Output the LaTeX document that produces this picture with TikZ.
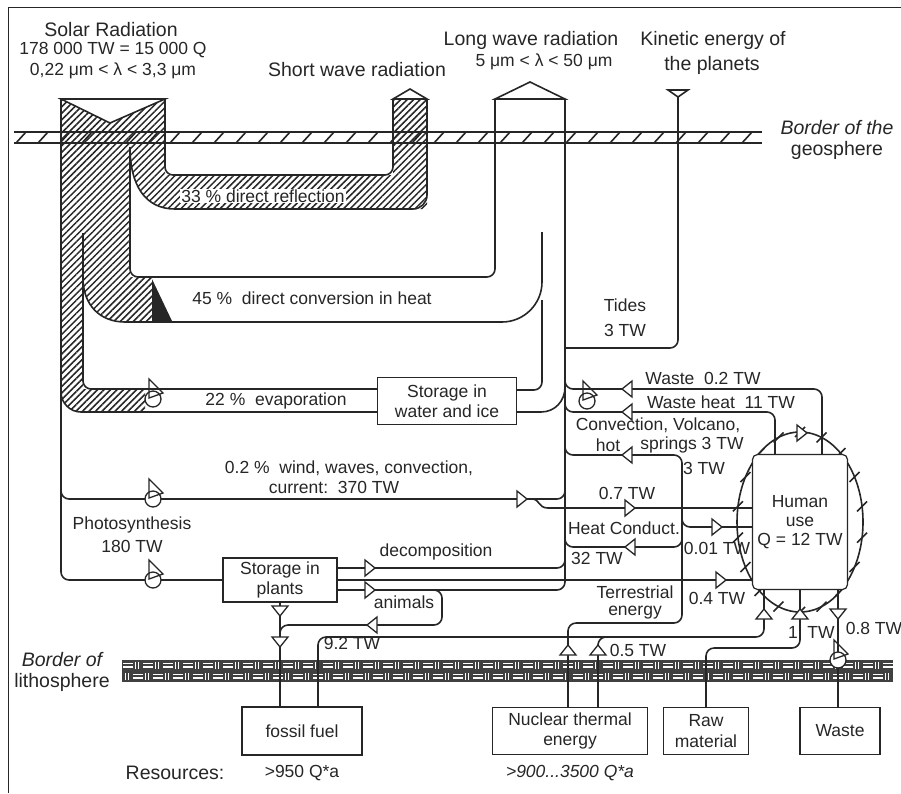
\documentclass[tikz,border=0pt]{standalone}
\usepackage{fontspec}
\setmainfont{Liberation Sans}
\usetikzlibrary{patterns.meta}

\tikzset{
  pics/flowtip/.style={code={\draw[line width=1.3pt, fill=white] (-5,-8) -- (5,0) -- (-5,8) -- cycle;}},
  pics/pumpsym/.style={code={
    \draw[line width=1.3pt, fill=white] (0,0) circle (8);
    \draw[line width=1.3pt] (-4,-1) -- (-4,-20) -- (10,-6) -- cycle;}},
}

\begin{document}
\begin{tikzpicture}[
    x=1pt, y=-1pt, color=black!85,
    band/.style={line width=1.6pt},
    pipe/.style={line width=1.6pt, rounded corners=8pt},
    hatch/.style={pattern={Lines[angle=45,distance=4.6pt,line width=1.5pt]}, pattern color=black!85},
    head/.style={font=\fontsize{19.5}{23}\selectfont, inner sep=0pt},
    lbl/.style={font=\fontsize{17.5}{20}\selectfont, inner sep=1pt},
    store/.style={rectangle, draw, fill=white, line width=1.2pt, align=center, inner sep=2pt, font=\fontsize{17.5}{20.5}\selectfont}
]
\useasboundingbox (0,0) rectangle (901,793);

% Frame
\draw[line width=1pt] (8,793) -- (8,7) -- (901,7);

% Hatched solar flows
\fill[hatch] (61,99) -- (110,123) -- (165,99) -- (165,175) -- (393,175) -- (393,99) -- (427,99) -- (427,209) -- (175,209)
   .. controls (145,209) and (130,185) .. (130,147) -- (130,277) -- (152,277) -- (152,322) -- (125,322)
   .. controls (100,322) and (83,305) .. (83,278) -- (83,389) -- (145,389) -- (145,412) -- (81,412)
   .. controls (70,412) and (61,403) .. (61,392) -- cycle;
\fill (152,279) -- (172,321) -- (152,321) -- cycle;

% Border of the geosphere
\draw[band] (14,132) -- (762,132) (14,143) -- (762,143);
\foreach \x in {16,38,...,750} \draw[band] (\x,143) -- (\x+10,132);

% Border of the lithosphere
\fill[black!75] (122,660) rectangle (893,682);
\begin{scope}
\clip (122,660) rectangle (893,682);
\foreach \x in {122,142,...,882} {
  \draw[white, line width=1.1pt] (\x+1,663.5) -- (\x+11,663.5) (\x+1,667) -- (\x+11,667)
    (\x+13.5,662) -- (\x+13.5,669) (\x+16.5,662) -- (\x+16.5,669)
    (\x+11,674.5) -- (\x+21,674.5) (\x+11,678) -- (\x+21,678)
    (\x+3.5,673) -- (\x+3.5,680) (\x+6.5,673) -- (\x+6.5,680);
}
\end{scope}

% Human use
\draw[band] (800,522) ellipse [x radius=63, y radius=90];
\foreach \a in {10,30,...,350} \draw[band] ({800+63*cos(\a)},{522+90*sin(\a)}) ++(-5,5) -- ++(10,-10);

% Boxes
\node[store, minimum width=139pt, minimum height=47pt] (water) at (447,401) {Storage in\\water and ice};
\node[store, minimum width=114pt, minimum height=44pt] (plants) at (280,580) {Storage in\\plants};
\node[store, rounded corners=5pt, minimum width=95pt, minimum height=135pt, font=\fontsize{17.5}{19}\selectfont] (human) at (800,522) {Human\\use\\Q = 12 TW};
\node[store, minimum width=120pt, minimum height=48pt] (fossil) at (302,731) {fossil fuel};
\node[store, minimum width=155pt, minimum height=47pt] (nuclear) at (570,731) {Nuclear thermal\\energy};
\node[store, minimum width=85pt, minimum height=47pt] (raw) at (706,731) {Raw\\material};
\node[store, minimum width=80pt, minimum height=47pt] (waste) at (840,731) {Waste};

% Headings
\node[head] (solar) at (111,30) {Solar Radiation};
\node[lbl] (solarval) at (113,50) {178 000 TW = 15 000 Q};
\node[lbl] (solarlam) at (113,71) {0,22 μm < λ < 3,3 μm};
\node[head] (short) at (357,70) {Short wave radiation};
\node[head] (long) at (531,40) {Long wave radiation};
\node[lbl] (longlam) at (544,62) {5 μm < λ < 50 μm};
\node[head] (kinetic) at (713,40) {Kinetic energy of};
\node[head] (kinetic2) at (712,65) {the planets};
\node[head] (geo) at (837,128) {\itshape Border of the};
\node[head] (geo2) at (837,150) {geosphere};
\node[head] (litho) at (62,660) {\itshape Border of};
\node[head] (litho2) at (62,682) {lithosphere};

% Flow labels
\node[lbl, fill=white] (refl) at (263,196) {33 \% direct reflection};
\node[lbl] (conv) at (312,298) {45 \%\ \ direct conversion in heat};
\node[lbl] (evap) at (276,401) {22 \%\ \ evaporation};
\node[lbl] (wind) at (349,468) {0.2 \%\ \ wind, waves, convection,};
\node[lbl] (windval) at (334,487) {current:\ \ 370 TW};
\node[lbl] (photo) at (132,525) {Photosynthesis};
\node[lbl] (photoval) at (132,546) {180 TW};
\node[lbl] (tides) at (625,305) {Tides};
\node[lbl] (tidesval) at (625,330) {3 TW};
\node[lbl] (waste1) at (703,378) {Waste\ \ 0.2 TW};
\node[lbl] (waste2) at (721,402) {Waste heat\ \ 11 TW};
\node[lbl, inner sep=0pt] (volc) at (658,425) {Convection, Volcano,};
\node[lbl, inner sep=0pt] (hot) at (608,445) {hot};
\node[lbl, inner sep=0pt] (springs) at (692,445) {springs 3 TW};
\node[lbl] (convval) at (704,468) {3 TW};
\node[lbl] (hydro) at (627,493) {0.7 TW};
\node[lbl] (cond) at (624,528) {Heat Conduct.};
\node[lbl] (condval) at (597,558) {32 TW};
\node[lbl] (geoth) at (717,548) {0.01 TW};
\node[lbl] (bio) at (717,598) {0.4 TW};
\node[lbl] (terr) at (635,592) {Terrestrial};
\node[lbl] (terr2) at (635,613) {energy};
\node[lbl] (decomp) at (436,552) {decomposition};
\node[lbl] (animals) at (404,602) {animals};
\node[lbl] (fossilval) at (352,643) {9.2 TW};
\node[lbl] (nuclval) at (638,650) {0.5 TW};
\node[lbl] (rawval) at (793,632) {1};
\node[lbl] (rawval2) at (821,632) {TW};
\node[lbl] (wasteval) at (874,628) {0.8 TW};
\node[head] (res) at (175,773) {Resources:};
\node[lbl] (resfossil) at (302,773) {>950 Q*a};
\node[lbl] (resnucl) at (570,773) {\itshape >900...3500 Q*a};

% Radiation flows
\draw[band] (61,99) -- (110,123) -- (165,99) -- cycle;
\draw[pipe] (61,99) -- (61,580) -- (plants.west);
\draw[band] (61,392) .. controls (61,403) and (70,412) .. (81,412) -- (water.west |- 0,412);
\draw[pipe] (83,233) -- (83,389) -- (water.west |- 0,389);
\draw[band] (83,278) .. controls (83,305) and (100,322) .. (125,322) -- (502,322) .. controls (524,322) and (542,304) .. (542,282) -- (542,232);
\draw[pipe] (130,147) -- (130,277) -- (495,277) -- (495,99);
\draw[band] (130,147) .. controls (130,185) and (145,209) .. (175,209) [rounded corners=14pt] -- (427,209) -- (427,99);
\draw[pipe] (165,99) -- (165,175) -- (393,175) -- (393,99);
\draw[band, fill=white] (393,99) -- (410,89) -- (427,99) -- cycle;
\draw[band, fill=white] (495,99) -- (530,82) -- (565,99) -- cycle;
\draw[pipe] (565,99) -- (565,590) -- (plants.east |- 0,590);
\draw[pipe] (water.east |- 0,390) -- (542,390) -- (542,300);
\draw[band] (water.east |- 0,412) -- (541,412) .. controls (555,412) and (565,401) .. (565,387);

% Tides
\draw[band] (668,90) -- (688,90) -- (678,97) -- cycle;
\draw[pipe] (678,97) -- (678,348) -- (565,348);

% Wind and use
\draw[pipe] (61,485) -- (61,499) -- (565,499) -- (565,485);
\draw[band] (532,499) .. controls (540,499) and (538,508) .. (548,508) -- (human.west |- 0,508);
\draw[pipe] (565,375) -- (565,389) -- (822,389) -- (human.north -| 822,0);
\draw[pipe] (565,398) -- (565,412) -- (775,412) -- (human.north -| 775,0);
\draw[pipe] ([xshift=-2pt]nuclear.north) -- (568,623) -- (682,623) -- (682,455) -- (565,455) -- (565,442);
\draw[pipe] (682,538) -- (682,547) -- (565,547) -- (565,535);
\draw[pipe] (682,515) -- (682,527) -- (human.west |- 0,527);

% Plants
\draw[pipe] (plants.east |- 0,568) -- (565,568) -- (565,552);
\draw[band] (plants.east) -- (human.west |- plants.east);
\draw[pipe] (428,590) -- (442,590) -- (442,625) -- (plants.south |- 0,625) -- (plants.south |- 0,640);
\draw[band] (plants.south) -- (plants.south |- fossil.north);

% Resources
\draw[pipe] ([xshift=16pt]fossil.north) -- (318,637) -- (764,637) -- (human.south -| 764,0);
\draw[pipe] ([xshift=28pt]nuclear.north) -- (598,637) -- (615,637);
\draw[pipe] (raw.north) -- (706,648) -- (800,648) -- (human.south -| 800,0);
\draw[band] (human.south -| 838,0) -- (waste.north -| 838,0);

% Flow tips
\pic at (522,499) {flowtip};
\pic at (630,508) {flowtip};
\pic[rotate=180] at (627,389) {flowtip};
\pic[rotate=180] at (627,412) {flowtip};
\pic[rotate=180] at (627,455) {flowtip};
\pic[rotate=180] at (630,547) {flowtip};
\pic at (717,527) {flowtip};
\pic at (721,580) {flowtip};
\pic at (370,568) {flowtip};
\pic at (370,590) {flowtip};
\pic[rotate=180] at (372,625) {flowtip};
\pic[rotate=-90] at (280,611) {flowtip};
\pic[rotate=-90] at (280,642) {flowtip};
\pic[rotate=90] at (568,650) {flowtip};
\pic[rotate=90] at (598,650) {flowtip};
\pic[rotate=90] at (764,614) {flowtip};
\pic[rotate=90] at (800,614) {flowtip};
\pic[rotate=-90] at (838,614) {flowtip};
\pic at (802,433) {flowtip};

% Pumps
\pic at (153,399) {pumpsym};
\pic at (153,499) {pumpsym};
\pic at (153,580) {pumpsym};
\pic at (587,401) {pumpsym};
\pic at (838,660) {pumpsym};

\end{tikzpicture}
\end{document}
